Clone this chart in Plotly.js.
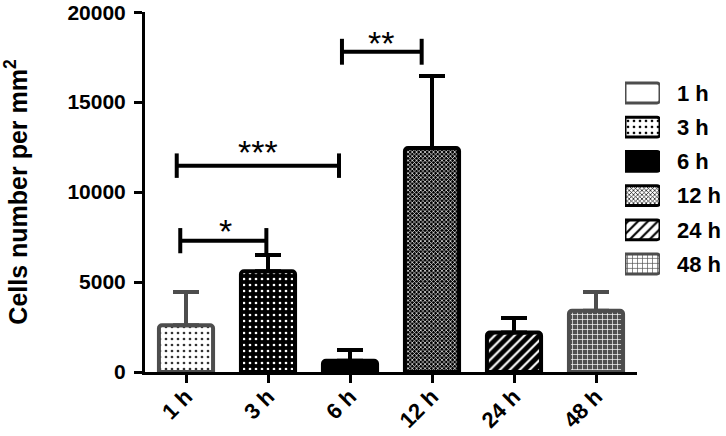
<!DOCTYPE html>
<html>
<head>
<meta charset="utf-8">
<script src="https://cdn.plot.ly/plotly-3.0.1.min.js"></script>
<style>html,body{margin:0;padding:0;background:#fff;}#chart{width:726px;height:436px;}</style>
</head>
<body>
<div id="chart"></div>
<script>
// ---- data ----
const categories = ['1 h', '3 h', '6 h', '12 h', '24 h', '48 h'];
const meanValues = [2600, 5600, 620, 12450, 2200, 3400];
const errorPlus  = [1850, 900, 600, 4000, 800, 1050];
const yTickValues = [0, 5000, 10000, 15000, 20000];
const yTickLabels = ['0', '5000', '10000', '15000', '20000'];
const yTitle = 'Cells number per mm<sup>2</sup>';
// significance levels and labels
const sigLevels = [7300, 11470, 17800];
const sigLabels = ['*', '***', '**'];

// ---- styles ----
const GRAY = '#4d4d4d';
const styles = [
  {line: GRAY,  shape: '.', fg: '#333333', bg: '#ffffff', size: 6, sol: 0.16, err: GRAY},
  {line: '#000', shape: '.', fg: '#ffffff', bg: '#000000', size: 6, sol: 0.16, err: '#000'},
  {line: '#000', shape: '',  fg: '#000000', bg: '#000000', size: 6, sol: 0.2,  err: '#000'},
  {line: '#000', shape: 'x', fg: '#ffffff', bg: '#000000', size: 3, sol: 0.4, err: '#000'},
  {line: '#000', shape: '/', fg: '#ffffff', bg: '#000000', size: 7, sol: 0.3,  err: '#000'},
  {line: GRAY,  shape: '+', fg: '#ffffff', bg: '#505050', size: 5, sol: 0.25, err: GRAY}
];
const FONT = 'Liberation Sans, Arial, Helvetica, sans-serif';

const traces = categories.map((c, i) => ({
  type: 'bar',
  x: [c],
  y: [meanValues[i]],
  width: 0.66,
  xaxis: 'x', yaxis: 'y',
  showlegend: false,
  hoverinfo: 'skip',
  marker: {
    color: styles[i].bg,
    cornerradius: 3,
    line: {color: styles[i].line, width: 4},
    pattern: {shape: styles[i].shape, fgcolor: styles[i].fg, bgcolor: styles[i].bg,
              size: styles[i].size, solidity: styles[i].sol, fillmode: 'replace'}
  },
  error_y: {type: 'data', symmetric: false, array: [errorPlus[i]], arrayminus: [0],
            color: styles[i].err, thickness: 4, width: 13}
}));

// legend swatches drawn on an auxiliary axis
traces.push({
  type: 'bar',
  orientation: 'h',
  y: categories,
  x: categories.map(() => 1),
  width: 0.58,
  xaxis: 'x2', yaxis: 'y2',
  showlegend: false,
  hoverinfo: 'skip',
  marker: {
    color: styles.map(s => s.bg),
    cornerradius: 3,
    line: {color: styles.map(s => s.line), width: 3},
    pattern: {shape: styles.map(s => s.shape), fgcolor: styles.map(s => s.fg),
              bgcolor: styles.map(s => s.bg), size: styles.map(s => s.size),
              solidity: styles.map(s => s.sol), fillmode: 'replace'}
  }
});

const brackets = [
  {x0: -0.07, x1: 0.98, h: 700},
  {x0: -0.113, x1: 1.866, h: 680},
  {x0: 1.902, x1: 2.874, h: 720}
];
const labelPos = [{x: 0.476, y: 7810}, {x: 0.878, y: 12250}, {x: 2.378, y: 18310}];
const shapes = [];
const annotations = [];
brackets.forEach((b, i) => {
  const y = sigLevels[i];
  const ln = {color: '#000', width: 4};
  shapes.push({type: 'line', xref: 'x', yref: 'y', x0: b.x0, x1: b.x1, y0: y, y1: y, line: ln});
  shapes.push({type: 'line', xref: 'x', yref: 'y', x0: b.x0, x1: b.x0, y0: y - b.h, y1: y + b.h, line: ln});
  shapes.push({type: 'line', xref: 'x', yref: 'y', x0: b.x1, x1: b.x1, y0: y - b.h, y1: y + b.h, line: ln});
  annotations.push({xref: 'x', yref: 'y', x: labelPos[i].x, y: labelPos[i].y, yanchor: 'middle',
    text: sigLabels[i], showarrow: false, font: {family: FONT, size: 34, color: '#000'}});
});

const PLOT_H = 436 - 12 - 64;
const layout = {
  width: 726, height: 436,
  margin: {l: 145, r: 0, t: 12, b: 64},
  paper_bgcolor: '#fff', plot_bgcolor: '#fff',
  barmode: 'overlay',
  font: {family: FONT, color: '#000'},
  xaxis: {
    domain: [0, 492 / 581],
    type: 'category', categoryorder: 'array', categoryarray: categories,
    range: [-0.5, 5.5],
    showgrid: false, zeroline: false,
    showline: true, linecolor: '#000', linewidth: 3,
    ticks: 'outside', ticklen: 8, tickwidth: 3, tickcolor: '#000',
    tickangle: -45,
    ticklabelstandoff: -8,
    ticklabeloverflow: 'allow',
    tickfont: {family: FONT, size: 22, weight: 'bold', color: '#000'}
  },
  yaxis: {
    range: [0, 20010],
    tickvals: yTickValues, ticktext: yTickLabels,
    showgrid: false, zeroline: false,
    showline: true, linecolor: '#000', linewidth: 3,
    ticks: 'outside', ticklen: 8, tickwidth: 3, tickcolor: '#000',
    ticklabelstandoff: 4,
    ticklabeloverflow: 'allow',
    tickfont: {family: FONT, size: 21, weight: 'bold', color: '#000'},
    title: {text: yTitle, standoff: 38, font: {family: FONT, size: 25, weight: 'bold', color: '#000'}}
  },
  xaxis2: {
    domain: [(625 - 145) / 581, (660 - 145) / 581],
    anchor: 'y2', range: [0, 1],
    showgrid: false, zeroline: false, showline: false, showticklabels: false, ticks: ''
  },
  yaxis2: {
    domain: [(372 - 281.1) / PLOT_H, (372 - 75.9) / PLOT_H],
    anchor: 'x2', side: 'right',
    type: 'category', categoryorder: 'array', categoryarray: categories,
    autorange: 'reversed',
    showgrid: false, zeroline: false, showline: false, ticks: '',
    ticklabelstandoff: 16,
    tickfont: {family: FONT, size: 22, weight: 'bold', color: '#000'}
  },
  shapes: shapes,
  annotations: annotations
};

Plotly.newPlot('chart', traces, layout, {displayModeBar: false, staticPlot: true});
</script>
</body>
</html>
